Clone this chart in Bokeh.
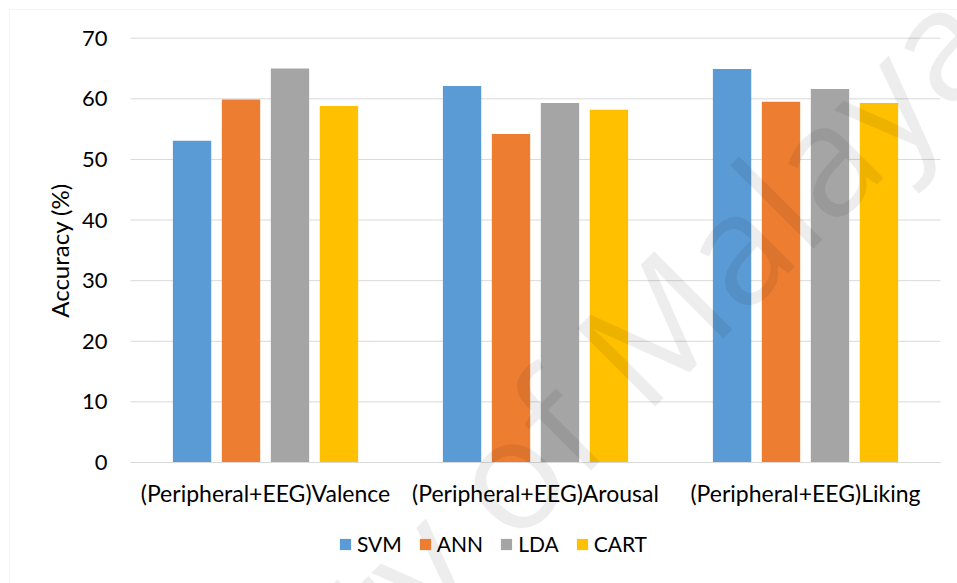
from bokeh.embed import file_html
from bokeh.models import (BoxAnnotation, ColumnDataSource, FixedTicker, Label, Legend,
                          LegendItem, LinearAxis, Range1d)
from bokeh.plotting import figure
from bokeh.resources import INLINE
import math

# Classification accuracy per feature set
categories = ["(Peripheral+EEG)Valence", "(Peripheral+EEG)Arousal", "(Peripheral+EEG)Liking"]
svm = [53.1, 62.1, 64.9]
ann = [59.9, 54.2, 59.5]
lda = [65.0, 59.3, 61.6]
cart = [58.8, 58.2, 59.3]
series_names = ["SVM", "ANN", "LDA", "CART"]
y_ticks = [0, 10, 20, 30, 40, 50, 60, 70]

colors = ["#5B9BD5", "#ED7D31", "#A5A5A5", "#FFC000"]
FONT = "Lato"
GRID = "#d9d9d9"

# Page geometry: the plotting frame covers the whole canvas, the chart area
# (categories 0..3, accuracy 0..70) sits inside it.
W, H = 957, 583
AREA_L, AREA_R, AREA_T, AREA_B = 130, 940, 37.7, 462
n_cat = len(categories)
y_min, y_max = y_ticks[0], y_ticks[-1]
px_x = (AREA_R - AREA_L) / n_cat
px_y = (AREA_B - AREA_T) / (y_max - y_min)

p = figure(
    width=W, height=H,
    x_range=Range1d(-AREA_L / px_x, n_cat + (W - AREA_R) / px_x),
    y_range=Range1d(y_min - (H - AREA_B) / px_y, y_max + AREA_T / px_y),
    x_axis_type=None, y_axis_type=None,
    output_backend="svg", toolbar_location=None, min_border=0,
)
p.background_fill_color = "white"
p.border_fill_color = "white"
p.outline_line_color = None
p.xgrid.visible = False
p.ygrid.visible = False

# horizontal gridlines at each accuracy tick
p.segment(x0=[0] * len(y_ticks), x1=[n_cat] * len(y_ticks), y0=y_ticks, y1=y_ticks,
          line_color=GRID, line_width=1)

# grouped bars
offsets = [-0.272, -0.0907, 0.0907, 0.272]
bar_w = 0.142
centers = [i + 0.5 for i in range(n_cat)]
data = dict(SVM=svm, ANN=ann, LDA=lda, CART=cart)
renderers = []
for name, off, col in zip(series_names, offsets, colors):
    src = ColumnDataSource(dict(x=[c + off for c in centers], top=data[name]))
    r = p.vbar(x="x", top="top", width=bar_w, source=src, fill_color=col, line_color=None)
    renderers.append(r)

# category axis
xaxis = LinearAxis(
    fixed_location=0, bounds=(0, n_cat),
    ticker=FixedTicker(ticks=centers),
    major_label_overrides={c: cat for c, cat in zip(centers, categories)},
    axis_line_color=GRID, axis_line_width=1,
    major_tick_line_color=None, minor_tick_line_color=None,
    major_label_standoff=10,
    major_label_text_font=FONT, major_label_text_font_size="23px",
    major_label_text_color="black",
)
p.add_layout(xaxis, "below")

# accuracy axis
yaxis = LinearAxis(
    fixed_location=0, bounds=(y_min, y_max),
    ticker=FixedTicker(ticks=y_ticks),
    axis_line_color=None, major_tick_line_color=None, minor_tick_line_color=None,
    major_label_standoff=17,
    major_label_text_font=FONT, major_label_text_font_size="22px",
    major_label_text_color="black",
    axis_label="Accuracy (%)", axis_label_text_font=FONT,
    axis_label_text_font_size="24px", axis_label_text_font_style="normal",
    axis_label_text_color="black", axis_label_standoff=5,
)
p.add_layout(yaxis, "left")

# legend under the categories
legend = Legend(
    items=[LegendItem(label=n, renderers=[r]) for n, r in zip(series_names, renderers)],
    orientation="horizontal",
    location=(338, 27),
    glyph_width=14, glyph_height=14,
    label_standoff=5, spacing=16,
    padding=0, margin=0,
    border_line_color=None, background_fill_alpha=0,
    label_text_font=FONT, label_text_font_size="21px", label_text_color="black",
)
p.add_layout(legend, "center")

# chart border
p.add_layout(BoxAnnotation(
    left=9, right=W + 50, top=9, bottom=H + 50,
    left_units="canvas", right_units="canvas", top_units="canvas", bottom_units="canvas",
    fill_alpha=0, line_color=GRID, line_width=1, level="underlay",
))

# watermark
p.add_layout(Label(
    x=965, y=10, x_units="canvas", y_units="canvas",
    text="University of Malaya", angle=math.pi / 4,
    text_align="right", text_baseline="alphabetic",
    text_font="Open Sans", text_font_size="155px",
    text_color="black", text_alpha=0.07,
))

open("out.html", "w").write(file_html(p, INLINE))
